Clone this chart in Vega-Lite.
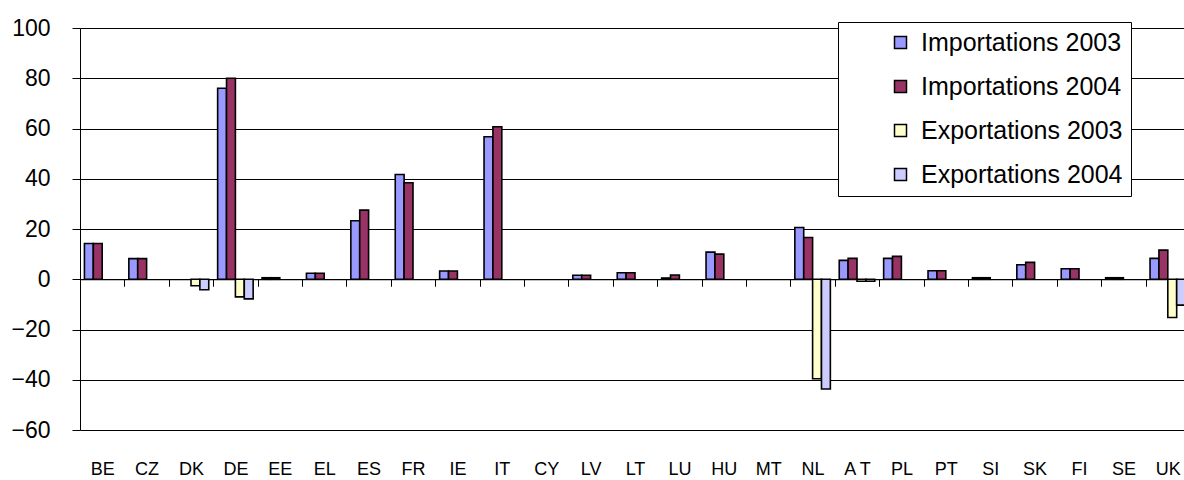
{
  "$schema": "https://vega.github.io/schema/vega-lite/v6.json",
  "autosize": {"type": "none"},
  "padding": {"left": 80, "top": 28, "right": 0, "bottom": 50},
  "width": 1104,
  "height": 402,
  "background": "white",
  "config": {"view": {"stroke": null}},
  "data": {"values": [
    {"country": "BE", "series": "Importations 2003", "value": 14.2},
    {"country": "BE", "series": "Importations 2004", "value": 14.2},
    {"country": "CZ", "series": "Importations 2003", "value": 8.2},
    {"country": "CZ", "series": "Importations 2004", "value": 8.2},
    {"country": "DK", "series": "Exportations 2003", "value": -2.6},
    {"country": "DK", "series": "Exportations 2004", "value": -4.2},
    {"country": "DE", "series": "Importations 2003", "value": 76},
    {"country": "DE", "series": "Importations 2004", "value": 80},
    {"country": "DE", "series": "Exportations 2003", "value": -7},
    {"country": "DE", "series": "Exportations 2004", "value": -7.8},
    {"country": "EE", "series": "Importations 2003", "value": 0.6},
    {"country": "EE", "series": "Importations 2004", "value": 0.6},
    {"country": "EL", "series": "Importations 2003", "value": 2.4},
    {"country": "EL", "series": "Importations 2004", "value": 2.4},
    {"country": "ES", "series": "Importations 2003", "value": 23.3},
    {"country": "ES", "series": "Importations 2004", "value": 27.5},
    {"country": "FR", "series": "Importations 2003", "value": 41.7},
    {"country": "FR", "series": "Importations 2004", "value": 38.4},
    {"country": "IE", "series": "Importations 2003", "value": 3.3},
    {"country": "IE", "series": "Importations 2004", "value": 3.3},
    {"country": "IT", "series": "Importations 2003", "value": 56.7},
    {"country": "IT", "series": "Importations 2004", "value": 60.7},
    {"country": "LV", "series": "Importations 2003", "value": 1.6},
    {"country": "LV", "series": "Importations 2004", "value": 1.6},
    {"country": "LT", "series": "Importations 2003", "value": 2.6},
    {"country": "LT", "series": "Importations 2004", "value": 2.6},
    {"country": "LU", "series": "Importations 2003", "value": 0.5},
    {"country": "LU", "series": "Importations 2004", "value": 1.7},
    {"country": "HU", "series": "Importations 2003", "value": 10.8},
    {"country": "HU", "series": "Importations 2004", "value": 10.0},
    {"country": "NL", "series": "Importations 2003", "value": 20.6},
    {"country": "NL", "series": "Importations 2004", "value": 16.6},
    {"country": "NL", "series": "Exportations 2003", "value": -39.6},
    {"country": "NL", "series": "Exportations 2004", "value": -43.7},
    {"country": "A T", "series": "Importations 2003", "value": 7.5},
    {"country": "A T", "series": "Importations 2004", "value": 8.3},
    {"country": "A T", "series": "Exportations 2003", "value": -0.8},
    {"country": "A T", "series": "Exportations 2004", "value": -0.8},
    {"country": "PL", "series": "Importations 2003", "value": 8.3},
    {"country": "PL", "series": "Importations 2004", "value": 9.1},
    {"country": "PT", "series": "Importations 2003", "value": 3.4},
    {"country": "PT", "series": "Importations 2004", "value": 3.4},
    {"country": "SI", "series": "Importations 2003", "value": 0.6},
    {"country": "SI", "series": "Importations 2004", "value": 0.6},
    {"country": "SK", "series": "Importations 2003", "value": 5.8},
    {"country": "SK", "series": "Importations 2004", "value": 6.7},
    {"country": "FI", "series": "Importations 2003", "value": 4.2},
    {"country": "FI", "series": "Importations 2004", "value": 4.2},
    {"country": "SE", "series": "Importations 2003", "value": 0.6},
    {"country": "SE", "series": "Importations 2004", "value": 0.6},
    {"country": "UK", "series": "Importations 2003", "value": 8.3},
    {"country": "UK", "series": "Importations 2004", "value": 11.6},
    {"country": "UK", "series": "Exportations 2003", "value": -15.2},
    {"country": "UK", "series": "Exportations 2004", "value": -10.3}
  ]},
  "mark": {"type": "bar", "stroke": "black", "strokeWidth": 1.6},
  "encoding": {
    "x": {
      "field": "country",
      "type": "nominal",
      "sort": ["BE", "CZ", "DK", "DE", "EE", "EL", "ES", "FR", "IE", "IT", "CY", "LV", "LT", "LU", "HU", "MT", "NL", "A T", "PL", "PT", "SI", "SK", "FI", "SE", "UK"],
      "scale": {
        "domain": ["BE", "CZ", "DK", "DE", "EE", "EL", "ES", "FR", "IE", "IT", "CY", "LV", "LT", "LU", "HU", "MT", "NL", "A T", "PL", "PT", "SI", "SK", "FI", "SE", "UK"],
        "range": [0, 1110],
        "paddingInner": 0,
        "paddingOuter": 0
      },
      "axis": {
        "title": null,
        "orient": "bottom",
        "offset": -150.75,
        "domainColor": "black",
        "domainWidth": 1,
        "tickBand": "extent",
        "tickSize": 7,
        "tickColor": "black",
        "tickWidth": 1,
        "grid": false,
        "labelAngle": 0,
        "labelFont": "Liberation Sans",
        "labelFontSize": 18,
        "labelColor": "black",
        "labelBaseline": "alphabetic",
        "labelPadding": 188
      }
    },
    "xOffset": {
      "field": "series",
      "type": "nominal",
      "scale": {
        "domain": ["Importations 2003", "Importations 2004", "Exportations 2003", "Exportations 2004"],
        "paddingInner": 0,
        "paddingOuter": 0.5
      }
    },
    "y": {
      "field": "value",
      "type": "quantitative",
      "scale": {"domain": [-60, 100], "nice": false, "zero": false},
      "axis": {
        "title": null,
        "values": [-60, -40, -20, 0, 20, 40, 60, 80, 100],
        "grid": true,
        "gridColor": "black",
        "gridWidth": 1,
        "domainColor": "black",
        "domainWidth": 1,
        "tickColor": "black",
        "tickSize": 8,
        "labelFont": "Liberation Sans",
        "labelFontSize": 23,
        "labelColor": "black",
        "labelPadding": 22
      }
    },
    "color": {
      "field": "series",
      "type": "nominal",
      "scale": {
        "domain": ["Importations 2003", "Importations 2004", "Exportations 2003", "Exportations 2004"],
        "range": ["#9999FF", "#993366", "#FFFFCC", "#CCCCFF"]
      },
      "legend": {
        "title": null,
        "orient": "none",
        "legendX": 758,
        "legendY": -6,
        "direction": "vertical",
        "symbolType": "square",
        "symbolSize": 144,
        "symbolStrokeColor": "black",
        "symbolStrokeWidth": 1.5,
        "symbolOpacity": 1,
        "labelFont": "Liberation Sans",
        "labelFontSize": 25,
        "labelColor": "black",
        "labelLimit": 400,
        "labelOffset": 8,
        "strokeColor": "black",
        "fillColor": "white",
        "padding": 8,
        "symbolOffset": 42,
        "rowPadding": 18
      }
    }
  }
}
